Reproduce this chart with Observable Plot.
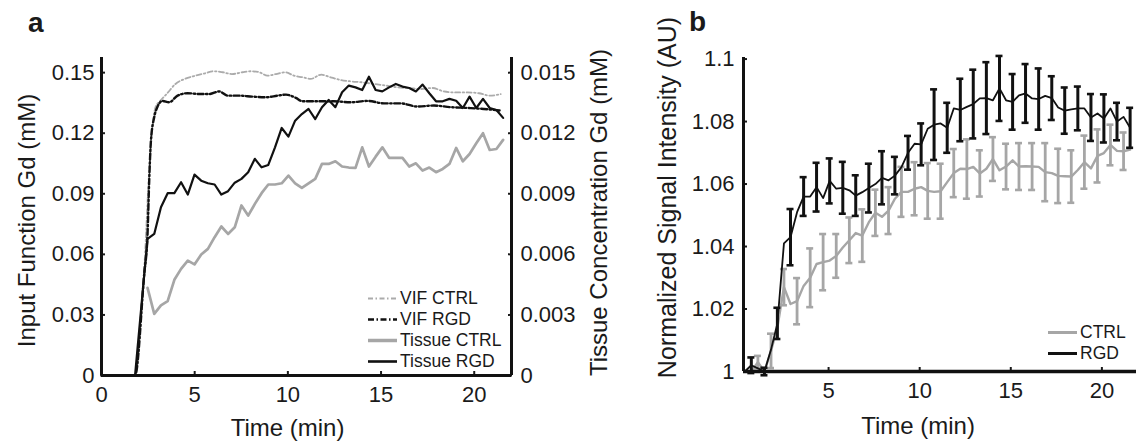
<!DOCTYPE html>
<html><head><meta charset="utf-8">
<script src="https://cdn.jsdelivr.net/npm/d3@7"></script>
<script src="https://cdn.jsdelivr.net/npm/@observablehq/plot@0.6"></script>
<style>
body{margin:0;background:#fff;}
#wrap{position:relative;width:1139px;height:447px;overflow:hidden;font-family:"Liberation Sans",Arial,sans-serif;color:#1a1a1a;background:#fff;}
#pa{position:absolute;left:0;top:0;}
#pb{position:absolute;left:620px;top:0;}
.letter{position:absolute;font-weight:bold;font-size:28px;line-height:28px;}
.leg{position:absolute;font-size:17.5px;line-height:21px;height:21px;display:flex;align-items:center;white-space:nowrap;}
.leg svg{display:block;margin-right:3px;}
</style></head>
<body>
<div id="wrap">
  <div id="pa"></div>
  <div id="pb"></div>
  <div class="letter" style="left:28px;top:9px;">a</div>
  <div class="letter" style="left:689px;top:8px;">b</div>
  <div class="leg" style="left:368px;top:288px;"><svg width="29" height="21"><line x1="0" x2="29" y1="10.5" y2="10.5" stroke="#ababab" stroke-width="2" stroke-dasharray="5,2.5,1.5,2.5"/></svg>VIF CTRL</div>
  <div class="leg" style="left:368px;top:309px;"><svg width="29" height="21"><line x1="0" x2="29" y1="10.5" y2="10.5" stroke="#111" stroke-width="2.6" stroke-dasharray="6,2.5,1.5,2.5"/></svg>VIF RGD</div>
  <div class="leg" style="left:368px;top:330px;"><svg width="29" height="21"><line x1="0" x2="29" y1="10.5" y2="10.5" stroke="#a6a6a6" stroke-width="3.5"/></svg>Tissue CTRL</div>
  <div class="leg" style="left:368px;top:351px;"><svg width="29" height="21"><line x1="0" x2="29" y1="10.5" y2="10.5" stroke="#111" stroke-width="2.6"/></svg>Tissue RGD</div>
  <div class="leg" style="left:1048px;top:322px;"><svg width="29" height="21"><line x1="0" x2="29" y1="10.5" y2="10.5" stroke="#a6a6a6" stroke-width="3"/></svg>CTRL</div>
  <div class="leg" style="left:1048px;top:343px;"><svg width="29" height="21"><line x1="0" x2="29" y1="10.5" y2="10.5" stroke="#111" stroke-width="3"/></svg>RGD</div>
</div>
<script>
// ---------- Panel a data ----------
const xTicksA = [0, 5, 10, 15, 20];
const leftTicksA = [0, 0.03, 0.06, 0.09, 0.12, 0.15];
const leftTickLabelsA = ["0", "0.03", "0.06", "0.09", "0.12", "0.15"];
const rightTicksA = [0, 0.003, 0.006, 0.009, 0.012, 0.015];
const rightTickLabelsA = ["0", "0.003", "0.006", "0.009", "0.012", "0.015"];

const vifCtrlTime = [0, 1.8, 2.1, 2.33, 2.52, 2.7, 2.9, 3.15, 3.53, 3.97, 4.47, 5.04, 5.57, 6.0, 6.5, 7.0, 7.57, 8.0, 8.47, 8.9, 9.36, 9.86, 10.33, 10.79, 11.22, 11.8, 12.29, 12.83, 13.37, 13.99, 14.62, 15.25, 15.87, 16.5, 17.12, 17.75, 18.37, 19.0, 19.63, 20.25, 20.84, 21.42];
const vifCtrl = [0, 0, 0.029, 0.0586, 0.0949, 0.1197, 0.1329, 0.136, 0.1398, 0.1444, 0.1469, 0.1485, 0.1497, 0.1507, 0.1502, 0.1493, 0.1502, 0.1507, 0.1502, 0.1485, 0.1493, 0.1502, 0.1485, 0.1477, 0.1469, 0.149, 0.1477, 0.1464, 0.1457, 0.1452, 0.1444, 0.1436, 0.1427, 0.1424, 0.1419, 0.1424, 0.1407, 0.1402, 0.1402, 0.1398, 0.1386, 0.1394];

const vifRgdTime = [0, 1.8, 2.29, 2.47, 2.56, 2.65, 2.83, 3.0, 3.27, 3.63, 4.08, 4.62, 5.25, 5.78, 6.32, 6.77, 7.4, 8.11, 8.83, 9.45, 9.9, 10.43, 10.79, 11.58, 12.47, 13.37, 14.26, 15.16, 16.05, 16.94, 17.84, 18.73, 19.63, 20.52, 21.42];
const vifRgd = [0, 0, 0.05, 0.07, 0.0965, 0.116, 0.128, 0.133, 0.136, 0.1353, 0.1386, 0.1398, 0.1394, 0.1394, 0.1407, 0.1386, 0.1386, 0.1381, 0.1378, 0.1386, 0.1391, 0.1375, 0.1358, 0.1358, 0.1358, 0.1353, 0.136, 0.1348, 0.1348, 0.1332, 0.1337, 0.1329, 0.1325, 0.132, 0.1312];

const tissueTime = [0, 1.8, 2.47, 2.83, 3.19, 3.55, 3.91, 4.27, 4.63, 4.99, 5.35, 5.71, 6.07, 6.43, 6.79, 7.15, 7.51, 7.87, 8.23, 8.59, 8.95, 9.31, 9.67, 10.03, 10.39, 10.75, 11.11, 11.47, 11.83, 12.19, 12.55, 12.91, 13.27, 13.63, 13.99, 14.35, 14.71, 15.07, 15.43, 15.79, 16.15, 16.51, 16.87, 17.23, 17.59, 17.95, 18.31, 18.67, 19.03, 19.39, 19.75, 20.11, 20.47, 20.83, 21.19, 21.55];
// tissue concentrations, mM (right axis)
const tissueRgd = [0, 0, 0.00677, 0.00701, 0.00833, 0.00903, 0.00903, 0.00957, 0.00896, 0.00995, 0.00965, 0.00952, 0.00946, 0.00896, 0.00913, 0.00955, 0.00974, 0.01007, 0.01073, 0.01031, 0.01043, 0.0113, 0.01226, 0.01183, 0.01262, 0.01295, 0.0132, 0.0127, 0.01329, 0.01365, 0.01329, 0.01403, 0.01436, 0.01427, 0.01414, 0.0148, 0.01414, 0.01407, 0.01427, 0.01444, 0.01431, 0.01424, 0.01407, 0.01441, 0.01398, 0.01358, 0.01358, 0.0137, 0.01361, 0.01325, 0.01381, 0.01325, 0.0137, 0.01325, 0.01315, 0.01276];
const tissueCtrl = [null, null, 0.00434, 0.00305, 0.00347, 0.00368, 0.00474, 0.00528, 0.00569, 0.0055, 0.00599, 0.00627, 0.00685, 0.00738, 0.00701, 0.00734, 0.00842, 0.00792, 0.0085, 0.00903, 0.00946, 0.00946, 0.00952, 0.0099, 0.00952, 0.00929, 0.00952, 0.00974, 0.01048, 0.01048, 0.01061, 0.01035, 0.0103, 0.01028, 0.0113, 0.01035, 0.01084, 0.0113, 0.01078, 0.01078, 0.01078, 0.01035, 0.01051, 0.01015, 0.0103, 0.01007, 0.01023, 0.01048, 0.01127, 0.01061, 0.01097, 0.0115, 0.012, 0.01117, 0.01122, 0.01167];

// ---------- Panel b data ----------
const xTicksB = [5, 10, 15, 20];
const yTicksB = [1, 1.02, 1.04, 1.06, 1.08, 1.1];
const yTickLabelsB = ["1", "1.02", "1.04", "1.06", "1.08", "1.1"];
const timeB = [0.40, 0.76, 1.12, 1.48, 1.84, 2.19, 2.55, 2.91, 3.27, 3.63, 3.99, 4.34, 4.70, 5.06, 5.42, 5.78, 6.14, 6.49, 6.85, 7.21, 7.57, 7.93, 8.29, 8.64, 9.00, 9.36, 9.72, 10.08, 10.44, 10.79, 11.15, 11.51, 11.87, 12.23, 12.59, 12.94, 13.30, 13.66, 14.02, 14.38, 14.74, 15.10, 15.45, 15.81, 16.17, 16.53, 16.89, 17.25, 17.60, 17.96, 18.32, 18.68, 19.04, 19.40, 19.76, 20.11, 20.47, 20.83, 21.19, 21.55];
const rgdB = [1.000, 1.002, 1.001, 1.000, 1.007, 1.0154, 1.041, 1.043, 1.051, 1.056, 1.056, 1.059, 1.0555, 1.061, 1.0585, 1.0588, 1.058, 1.0563, 1.0574, 1.0587, 1.060, 1.062, 1.0612, 1.0627, 1.0654, 1.070, 1.0729, 1.0727, 1.0777, 1.079, 1.0794, 1.078, 1.0842, 1.0837, 1.0847, 1.0856, 1.0874, 1.0875, 1.0868, 1.0906, 1.0868, 1.0863, 1.0884, 1.089, 1.0874, 1.0872, 1.0882, 1.0875, 1.0845, 1.0835, 1.0839, 1.0842, 1.0842, 1.0813, 1.0826, 1.081, 1.0842, 1.080, 1.0815, 1.078];
const rgdErrB = [null, 0.0025, null, 0.0012, null, 0.005, null, 0.009, null, 0.0062, null, 0.0078, null, 0.0072, null, 0.0083, null, 0.0065, null, 0.0078, null, 0.0085, null, 0.006, null, 0.0054, null, 0.0067, null, 0.0113, null, 0.008, null, 0.010, null, 0.011, null, 0.0115, null, 0.0104, null, 0.0089, null, 0.0094, null, 0.0098, null, 0.007, null, 0.0074, null, 0.007, null, 0.0075, null, 0.0077, null, 0.006, null, 0.0064];
const ctrlB = [1.000, 1.000, 1.003, 1.000, 1.0066, 1.0141, 1.027, 1.0216, 1.0225, 1.0274, 1.030, 1.0344, 1.035, 1.0355, 1.037, 1.0397, 1.042, 1.0443, 1.0435, 1.0478, 1.0508, 1.0495, 1.0515, 1.0553, 1.0575, 1.0575, 1.0585, 1.059, 1.0578, 1.0575, 1.0577, 1.0606, 1.0635, 1.0649, 1.0648, 1.0655, 1.0634, 1.0649, 1.068, 1.0644, 1.0656, 1.0676, 1.0656, 1.0657, 1.0656, 1.0655, 1.0638, 1.0635, 1.0626, 1.0625, 1.0624, 1.0645, 1.067, 1.065, 1.069, 1.0699, 1.0725, 1.0706, 1.0705, 1.071];
const ctrlErrB = [null, null, 0.002, null, 0.0055, null, 0.0058, null, 0.0074, null, 0.0094, null, 0.009, null, 0.007, null, 0.0073, null, 0.0084, null, 0.0074, null, 0.0075, null, 0.008, null, 0.0085, null, 0.0089, null, 0.0088, null, 0.0077, null, 0.0095, null, 0.0074, null, 0.007, null, 0.0073, null, 0.0075, null, 0.0075, null, 0.0093, null, 0.0087, null, 0.0084, null, 0.0085, null, 0.0085, null, 0.0065, null, 0.006, null];

// ---------- styling ----------
const BLACK = "#111";
const GRAY = "#a6a6a6";
const TEXT = "#1a1a1a";
const FONT = "'Liberation Sans', Arial, sans-serif";
const noLabel = () => "";

// ratio between left (input function) and right (tissue) axes
const axisRatio = leftTicksA[leftTicksA.length - 1] / rightTicksA[rightTicksA.length - 1];

const vifCtrlRows = vifCtrlTime.map((t, i) => ({t, v: vifCtrl[i]}));
const vifRgdRows = vifRgdTime.map((t, i) => ({t, v: vifRgd[i]}));
const tissueRows = tissueTime.map((t, i) => ({t, rgd: tissueRgd[i], ctrl: tissueCtrl[i]}));

const plotA = Plot.plot({
  width: 620, height: 447,
  marginLeft: 101, marginRight: 109, marginTop: 57, marginBottom: 72,
  x: {domain: [0, 22]},
  y: {domain: [0, 0.1575]},
  style: {fontFamily: FONT, fontSize: "22px", color: TEXT, background: "transparent", overflow: "visible"},
  marks: [
    Plot.line(tissueRows, {x: "t", y: d => d.ctrl == null ? null : d.ctrl * axisRatio, stroke: GRAY, strokeWidth: 2.7, strokeLinejoin: "round"}),
    Plot.line(vifCtrlRows, {x: "t", y: "v", stroke: "#ababab", strokeWidth: 1.8, strokeDasharray: "5,2.5,1.5,2.5", curve: "monotone-x"}),
    Plot.line(vifRgdRows, {x: "t", y: "v", stroke: BLACK, strokeWidth: 2.4, strokeDasharray: "6,2.5,1.5,2.5", curve: "monotone-x"}),
    Plot.line(tissueRows, {x: "t", y: d => d.rgd * axisRatio, stroke: BLACK, strokeWidth: 2.2, strokeLinejoin: "round"}),
    Plot.axisX({ticks: xTicksA, tickSize: -4, tickFormat: noLabel, label: null, strokeWidth: 2}),
    Plot.axisX({ticks: xTicksA, tickSize: 0, tickPadding: 11, label: null}),
    Plot.axisY({ticks: leftTicksA, tickSize: -4, tickFormat: noLabel, label: null, strokeWidth: 2}),
    Plot.axisY({ticks: leftTicksA, tickSize: 0, tickPadding: 7, tickFormat: d => leftTickLabelsA[leftTicksA.indexOf(d)], label: null}),
    Plot.axisY({anchor: "right", ticks: leftTicksA, tickSize: -4, tickFormat: noLabel, label: null, strokeWidth: 2}),
    Plot.axisY({anchor: "right", ticks: leftTicksA, tickSize: 0, tickPadding: 9, tickFormat: d => rightTickLabelsA[leftTicksA.indexOf(d)], label: null}),
    Plot.ruleX([0], {stroke: BLACK, strokeWidth: 3}),
    Plot.ruleX([22], {stroke: BLACK, strokeWidth: 3}),
    Plot.ruleY([0], {stroke: BLACK, strokeWidth: 3}),
    Plot.text(["Input Function Gd (mM)"], {text: d => d, frameAnchor: "left", textAnchor: "middle", lineAnchor: "middle", dx: -74, dy: 4, rotate: -90, fontSize: 24, fill: TEXT}),
    Plot.text(["Tissue Concentration Gd (mM)"], {text: d => d, frameAnchor: "right", textAnchor: "middle", lineAnchor: "middle", dx: 88, dy: -4, rotate: -90, fontSize: 24, fill: TEXT}),
    Plot.text(["Time (min)"], {text: d => d, frameAnchor: "bottom", textAnchor: "middle", lineAnchor: "middle", dx: -19, dy: 53, fontSize: 24, fill: TEXT})
  ]
});
document.getElementById("pa").appendChild(plotA);

const rowsB = timeB.map((t, i) => ({t, rgd: rgdB[i], ctrl: ctrlB[i], re: rgdErrB[i], ce: ctrlErrB[i]}));
const ctrlBars = rowsB.filter(d => d.ce != null);
const rgdBars = rowsB.filter(d => d.re != null);

const plotB = Plot.plot({
  width: 519, height: 447,
  marginLeft: 123, marginRight: 3, marginTop: 57, marginBottom: 76,
  x: {domain: [0.33, 21.9]},
  y: {domain: [1, 1.1005]},
  style: {fontFamily: FONT, fontSize: "22px", color: TEXT, background: "transparent", overflow: "visible"},
  marks: [
    Plot.ruleX(ctrlBars, {x: "t", y1: d => d.ctrl - d.ce, y2: d => d.ctrl + d.ce, stroke: GRAY, strokeWidth: 2.8}),
    Plot.ruleY(ctrlBars, {x1: "t", x2: "t", y: d => d.ctrl + d.ce, insetLeft: -3.5, insetRight: -3.5, stroke: GRAY, strokeWidth: 2.6}),
    Plot.ruleY(ctrlBars, {x1: "t", x2: "t", y: d => d.ctrl - d.ce, insetLeft: -3.5, insetRight: -3.5, stroke: GRAY, strokeWidth: 2.6}),
    Plot.line(rowsB, {x: "t", y: "ctrl", stroke: GRAY, strokeWidth: 2.4, strokeLinejoin: "round"}),
    Plot.ruleX(rgdBars, {x: "t", y1: d => d.rgd - d.re, y2: d => d.rgd + d.re, stroke: BLACK, strokeWidth: 3}),
    Plot.ruleY(rgdBars, {x1: "t", x2: "t", y: d => d.rgd + d.re, insetLeft: -3.5, insetRight: -3.5, stroke: BLACK, strokeWidth: 2.6}),
    Plot.ruleY(rgdBars, {x1: "t", x2: "t", y: d => d.rgd - d.re, insetLeft: -3.5, insetRight: -3.5, stroke: BLACK, strokeWidth: 2.6}),
    Plot.line(rowsB, {x: "t", y: "rgd", stroke: BLACK, strokeWidth: 1.8, strokeLinejoin: "round"}),
    Plot.axisX({ticks: xTicksB, tickSize: -4, tickFormat: noLabel, label: null, strokeWidth: 2}),
    Plot.axisX({ticks: xTicksB, tickSize: 0, tickPadding: 11, label: null}),
    Plot.axisY({ticks: yTicksB, tickSize: -4, tickFormat: noLabel, label: null, strokeWidth: 2}),
    Plot.axisY({ticks: yTicksB, tickSize: 0, tickPadding: 9, tickFormat: d => yTickLabelsB[yTicksB.indexOf(d)], label: null}),
    Plot.ruleX([0.33], {stroke: BLACK, strokeWidth: 3}),
    Plot.ruleY([1], {stroke: BLACK, strokeWidth: 3.5}),
    Plot.text(["Normalized Signal Intensity (AU)"], {text: d => d, frameAnchor: "left", textAnchor: "middle", lineAnchor: "middle", dx: -76, dy: -17, rotate: -90, fontSize: 25, fill: TEXT}),
    Plot.text(["Time (min)"], {text: d => d, frameAnchor: "bottom", textAnchor: "middle", lineAnchor: "middle", dx: -22, dy: 55, fontSize: 24, fill: TEXT})
  ]
});
document.getElementById("pb").appendChild(plotB);
</script>
</body></html>
